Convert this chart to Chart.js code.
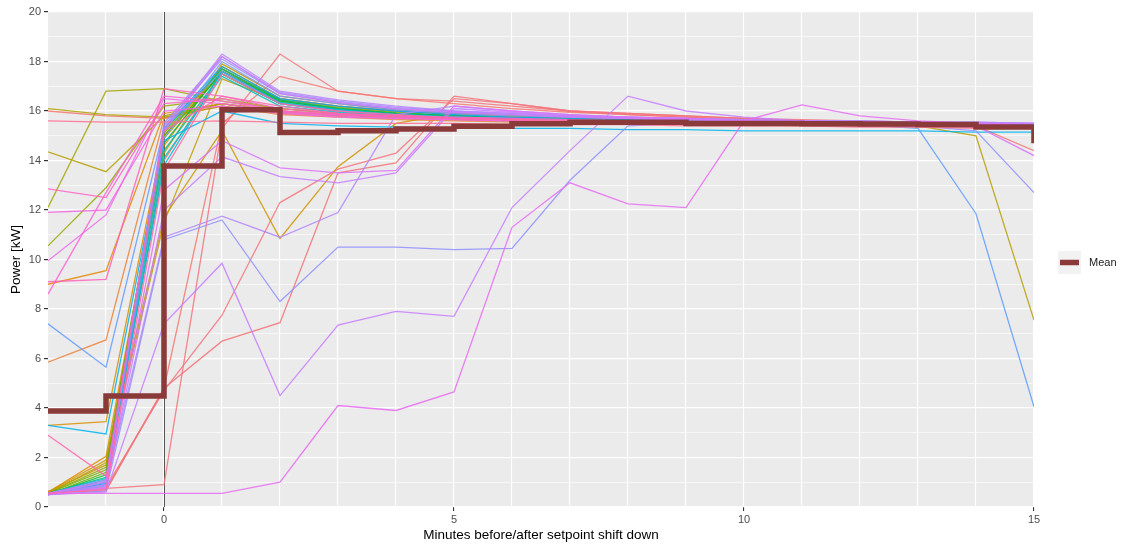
<!DOCTYPE html>
<html>
<head>
<meta charset="utf-8">
<script src="https://cdn.jsdelivr.net/npm/chart.js@4.4.1/dist/chart.umd.min.js"></script>
<style>
html,body{margin:0;padding:0;background:#fff;}
canvas{display:block;}
</style>
</head>
<body>
<canvas id="c" width="1123" height="544"></canvas>
<script>
// ---- data (minutes -2..15) ----
const minutes = [-2,-1,0,1,2,3,4,5,6,7,8,9,10,11,12,13,14,15];
const xTickLabels = [0,5,10,15];
const yTickLabels = [0,2,4,6,8,10,12,14,16,18,20];
const meanPower = [3.88,4.48,13.78,16.05,15.13,15.2,15.27,15.38,15.48,15.55,15.55,15.5,15.5,15.48,15.47,15.45,15.35,14.7];

const c01 = [0.6,0.9,14.0,17.6,16.5,16.2,16.0,15.85,15.75,15.7,15.65,15.6,15.55,15.55,15.5,15.5,15.45,15.4];
const uS  = [0.6,0.75,0.9,15.3,18.3,16.8,16.5,16.4,16.2,16.0,15.9,15.8,15.7,15.65,15.6,15.55,15.5,15.45];
const uT  = [0.6,0.65,4.8,15.5,17.4,16.8,16.5,16.3,16.1,15.95,15.85,15.75,15.7,15.6,15.55,15.5,15.45,15.4];
const uU  = [0.6,0.7,4.8,6.7,7.45,13.5,13.9,16.6,16.3,16.0,15.9,15.8,15.7,15.6,15.55,15.5,15.45,15.4];
const uV  = [0.65,0.8,4.7,7.75,12.3,13.65,14.3,16.5,16.3,16.0,15.85,15.75,15.65,15.6,15.55,15.5,15.45,15.4];
const uK  = [16.0,15.8,15.7,16.3,16.0,15.85,15.75,15.7,15.65,15.6,15.55,15.55,15.5,15.5,15.5,15.45,15.4,14.4];
const uM  = [5.85,6.75,15.7,16.2,15.85,15.75,15.65,15.6,15.55,15.5,15.5,15.45,15.45,15.4,15.4,15.35,15.35,15.3];
const uL  = [9.0,9.55,15.9,16.3,15.9,15.8,15.7,15.65,15.6,15.55,15.5,15.5,15.45,15.45,15.4,15.4,15.35,15.3];
const c02 = [0.6,2.05,14.6,17.8,16.5,16.2,16.0,15.9,15.8,15.7,15.65,15.6,15.6,15.55,15.5,15.5,15.45,15.45];
const uO  = [3.3,3.45,15.0,17.7,16.4,16.1,15.9,15.8,15.7,15.65,15.6,15.55,15.5,15.5,15.45,15.45,15.4,15.35];
const uZ  = [0.6,1.9,11.7,15.2,10.85,13.75,15.5,15.9,15.8,15.7,15.65,15.6,15.55,15.5,15.5,15.45,15.4,15.35];
const uAC = [0.6,1.7,11.5,17.3,16.4,16.1,15.9,15.8,15.7,15.65,15.6,15.55,15.5,15.5,15.45,15.45,15.4,15.35];
const c03 = [0.55,1.8,14.3,17.9,16.6,16.3,16.05,15.9,15.8,15.75,15.7,15.65,15.6,15.55,15.55,15.5,15.5,15.45];
const uB  = [14.35,13.55,15.8,16.3,16.0,15.85,15.75,15.7,15.65,15.6,15.55,15.55,15.5,15.5,15.45,15.4,15.0,7.55];
const uC  = [16.1,15.85,15.75,16.2,15.95,15.8,15.7,15.65,15.6,15.55,15.5,15.5,15.45,15.45,15.4,15.4,15.35,15.3];
const uA  = [12.1,16.8,16.9,16.4,16.1,15.9,15.8,15.7,15.6,15.6,15.55,15.5,15.5,15.45,15.45,15.4,15.4,15.35];
const uD  = [10.55,12.9,16.2,16.5,16.1,15.9,15.8,15.7,15.65,15.6,15.55,15.5,15.5,15.5,15.45,15.45,15.4,15.4];
const c04 = [0.55,1.6,14.9,17.6,16.4,16.1,15.9,15.8,15.7,15.65,15.6,15.55,15.5,15.5,15.45,15.45,15.4,15.4];
const c05 = [0.55,1.5,15.1,17.7,16.45,16.15,15.95,15.8,15.75,15.7,15.6,15.6,15.55,15.5,15.5,15.45,15.45,15.4];
const c06 = [0.5,1.4,15.0,17.5,16.3,16.0,15.85,15.75,15.65,15.6,15.55,15.5,15.5,15.45,15.45,15.4,15.4,15.35];
const c07 = [0.5,1.3,14.7,17.6,16.4,16.1,15.9,15.8,15.7,15.65,15.6,15.55,15.5,15.5,15.5,15.45,15.4,15.4];
const c08 = [0.55,1.2,15.2,17.7,16.45,16.1,15.9,15.8,15.7,15.65,15.6,15.55,15.55,15.5,15.5,15.45,15.45,15.4];
const c09 = [0.5,1.1,14.4,17.5,16.3,16.05,15.85,15.75,15.65,15.6,15.55,15.5,15.5,15.45,15.45,15.4,15.4,15.35];
const c10 = [0.5,1.0,14.1,17.4,16.2,15.95,15.8,15.7,15.65,15.6,15.5,15.5,15.45,15.45,15.4,15.4,15.35,15.3];
const c11 = [0.55,1.15,13.8,17.6,16.35,16.05,15.85,15.75,15.7,15.6,15.55,15.5,15.5,15.45,15.45,15.4,15.4,15.35];
const uP  = [3.3,2.95,14.8,16.0,15.5,15.4,15.35,15.3,15.3,15.3,15.25,15.25,15.2,15.2,15.2,15.2,15.15,15.15];
const c12 = [0.5,0.95,15.3,17.8,16.5,16.2,16.0,15.85,15.75,15.7,15.65,15.6,15.55,15.55,15.5,15.5,15.45,15.45];
const uN  = [7.4,5.65,15.3,17.6,16.3,16.0,15.85,15.75,15.7,15.65,15.6,15.55,15.5,15.5,15.45,15.3,11.85,4.05];
const c16 = [0.5,0.85,14.9,18.0,16.6,16.3,16.05,15.9,15.8,15.75,15.7,15.65,15.6,15.55,15.55,15.5,15.5,15.45];
const uX  = [0.5,0.65,10.8,11.6,8.3,10.5,10.5,10.4,10.45,13.2,15.4,15.5,15.5,15.45,15.45,15.4,15.2,12.7];
const c13 = [0.5,1.05,15.4,18.1,16.7,16.35,16.1,15.95,15.85,15.75,15.7,15.65,15.6,15.6,15.55,15.55,15.5,15.5];
const c14 = [0.5,0.9,15.5,18.2,16.75,16.4,16.15,16.0,15.9,15.8,15.75,15.7,15.65,15.6,15.6,15.55,15.55,15.5];
const uY  = [0.55,0.9,10.9,11.75,10.9,11.9,15.85,16.2,16.0,15.85,15.75,15.7,15.6,15.55,15.5,15.5,15.45,15.4];
const c15 = [0.55,1.1,15.3,18.3,16.8,16.45,16.2,16.0,15.9,15.8,15.75,15.7,15.65,15.6,15.6,15.55,15.55,15.5];
const uW  = [0.5,0.6,7.4,9.85,4.5,7.35,7.9,7.7,12.1,14.4,16.6,16.0,15.75,15.6,15.5,15.45,15.4,15.35];
const uAB = [0.5,0.75,12.0,14.15,13.35,13.1,13.5,16.1,15.95,15.8,15.7,15.65,15.6,15.55,15.5,15.45,15.4,15.3];
const c17 = [0.55,1.0,15.2,18.2,16.7,16.35,16.1,15.95,15.85,15.75,15.7,15.65,15.6,15.6,15.55,15.55,15.5,15.5];
const uAA = [0.5,0.8,12.8,14.8,13.7,13.5,13.6,16.2,16.0,15.85,15.75,15.7,15.6,15.55,15.5,15.45,15.4,14.2];
const uR  = [0.55,0.55,0.55,0.55,1.0,4.1,3.9,4.65,11.3,13.1,12.25,12.1,15.6,16.25,15.8,15.6,15.5,15.4];
const uG  = [9.95,11.8,16.5,16.3,15.95,15.8,15.7,15.65,15.6,15.55,15.55,15.5,15.5,15.45,15.45,15.4,15.35,15.3];
const uF  = [11.9,12.0,16.0,16.2,15.9,15.75,15.7,15.65,15.6,15.55,15.5,15.5,15.5,15.45,15.45,15.4,15.4,15.35];
const uI  = [8.6,12.7,16.6,16.4,16.0,15.85,15.75,15.7,15.65,15.6,15.55,15.5,15.5,15.5,15.45,15.4,15.4,15.35];
const uE  = [12.85,12.5,16.3,16.5,16.0,15.85,15.8,15.7,15.65,15.6,15.6,15.55,15.5,15.5,15.45,15.45,15.4,15.4];
const uH  = [9.1,9.2,16.9,16.6,16.1,15.9,15.8,15.75,15.7,15.65,15.6,15.55,15.5,15.5,15.45,15.45,15.4,15.4];
const uQ  = [2.9,1.25,15.2,16.6,16.2,15.9,15.8,15.7,15.65,15.6,15.55,15.5,15.5,15.45,15.45,15.4,15.4,15.35];
const c18 = [0.55,0.7,13.6,17.5,16.3,16.0,15.85,15.7,15.65,15.6,15.55,15.5,15.5,15.45,15.4,15.4,15.35,15.3];
const uJ  = [15.6,15.55,15.55,15.6,15.55,15.5,15.5,15.5,15.45,15.45,15.45,15.4,15.4,15.4,15.35,15.35,15.3,15.3];

// ---- styles (hue order; later entries drawn on top) ----
const seriesList = [
  [c01,'#F8766D'],[uS,'#F5737A'],[uT,'#F7776F'],[uU,'#F37275'],[uV,'#F5747E'],[uK,'#F27870'],
  [uM,'#EC8239'],[uL,'#E58700'],[c02,'#E08B00'],[uO,'#DB8E00'],[uZ,'#CF9400'],[uAC,'#C49A00'],
  [c03,'#BB9D00'],[uB,'#B79F00'],[uC,'#AEA200'],[uA,'#A3A500'],[uD,'#9AA800'],[c04,'#8FAA00'],[c05,'#7CAE00'],
  [c06,'#5EB300'],[c07,'#00BA38'],[c08,'#00BF74'],[c09,'#00C19F'],
  [c10,'#00BFC4'],[c11,'#00BADE'],[uP,'#00B4EF'],[c12,'#00A9FF'],
  [uN,'#619CFF'],[c16,'#7F96FF'],[uX,'#8F91FF'],[c13,'#9590FF'],[c14,'#A58AFF'],
  [uY,'#B385FF'],[c15,'#B983FF'],[uW,'#C77CFF'],[uAB,'#C77CFF'],[c17,'#D079FA'],[uAA,'#DB72FB'],
  [uR,'#E76BF3'],[uG,'#EE67EB'],[uF,'#F564E3'],[uI,'#FC61D5'],[uE,'#FF61C9'],[uH,'#FF62BC'],
  [uQ,'#FF64B0'],[c18,'#FF6AA0'],[uJ,'#FF6C91']
];

function hexA(hex, a){
  const r=parseInt(hex.slice(1,3),16), g=parseInt(hex.slice(3,5),16), b=parseInt(hex.slice(5,7),16);
  return `rgba(${r},${g},${b},${a})`;
}
const toPts = arr => minutes.map((m,i)=>({x:m,y:arr[i]}));
const N = seriesList.length;
const datasets = seriesList.map(([arr,col],i)=>({
  data: toPts(arr), borderColor: hexA(col,0.85), borderWidth: 1.3,
  pointRadius: 0, fill:false, tension:0, order: N - i + 1
}));
const MEAN_COL = '#8B3A3A';
datasets.push({
  label:'Mean', data: toPts(meanPower), borderColor: MEAN_COL, borderWidth: 5.5,
  pointRadius:0, stepped:'before', fill:false, borderJoinStyle:'miter', borderCapStyle:'butt', order: 0
});

const FONT = "'Liberation Sans', Arial, Helvetica, sans-serif";

const panelPlugin = {
  id:'panel',
  beforeDraw(chart){
    const {ctx, chartArea:a} = chart;
    ctx.save(); ctx.fillStyle='#EBEBEB';
    ctx.fillRect(a.left,a.top,a.right-a.left,a.bottom-a.top); ctx.restore();
  },
  beforeDatasetsDraw(chart){
    const {ctx, chartArea:a, scales} = chart;
    const x0 = Math.round(scales.x.getPixelForValue(0))+0.5;
    ctx.save(); ctx.strokeStyle='#555555'; ctx.lineWidth=1;
    ctx.beginPath(); ctx.moveTo(x0,a.top); ctx.lineTo(x0,a.bottom); ctx.stroke(); ctx.restore();
  },
  afterDraw(chart){
    const {ctx, chartArea:a} = chart;
    ctx.save();
    ctx.fillStyle='#000'; ctx.font = `13.5px ${FONT}`;
    ctx.textAlign='center'; ctx.textBaseline='middle';
    ctx.fillText('Minutes before/after setpoint shift down',(a.left+a.right)/2,535);
    ctx.translate(16,(a.top+a.bottom)/2); ctx.rotate(-Math.PI/2);
    ctx.fillText('Power [kW]',0,0);
    ctx.restore();
    // legend
    ctx.save();
    ctx.fillStyle='#F2F2F2'; ctx.fillRect(1058,251,23,23);
    ctx.strokeStyle=MEAN_COL; ctx.lineWidth=5.5; ctx.lineCap='butt';
    ctx.beginPath(); ctx.moveTo(1060,262.5); ctx.lineTo(1079,262.5); ctx.stroke();
    ctx.fillStyle='#1a1a1a'; ctx.font=`11px ${FONT}`; ctx.textAlign='left'; ctx.textBaseline='middle';
    ctx.fillText('Mean',1089,263);
    ctx.restore();
  }
};

new Chart(document.getElementById('c'), {
  type:'line',
  data:{datasets},
  plugins:[panelPlugin],
  options:{
    responsive:false, animation:false, devicePixelRatio:1,
    layout:{padding:{left:0,right:89,top:12,bottom:0}},
    plugins:{legend:{display:false}, tooltip:{enabled:false}},
    scales:{
      x:{
        type:'linear', min:-2, max:15,
        afterFit(s){ s.height = 37; },
        border:{display:false},
        grid:{ color:'#FFFFFF', lineWidth:1.1, drawTicks:true, tickLength:4,
          tickColor: ctx => xTickLabels.includes(ctx.tick.value) ? '#333333' : 'rgba(0,0,0,0)' },
        ticks:{ stepSize:1, autoSkip:false, maxRotation:0, padding:2, color:'#4D4D4D',
          font:{family:FONT,size:11},
          callback: v => xTickLabels.includes(v) ? String(v) : '' }
      },
      y:{
        type:'linear', min:0, max:20,
        afterFit(s){ s.width = 48; },
        border:{display:false},
        grid:{ color:'#FFFFFF',
          lineWidth: ctx => yTickLabels.includes(ctx.tick.value) ? 1.2 : 0.6,
          drawTicks:true, tickLength:4,
          tickColor: ctx => yTickLabels.includes(ctx.tick.value) ? '#333333' : 'rgba(0,0,0,0)' },
        ticks:{ stepSize:1, autoSkip:false, padding:3, color:'#4D4D4D',
          font:{family:FONT,size:11},
          callback: v => yTickLabels.includes(v) ? String(v) : '' }
      }
    }
  }
});
</script>
</body>
</html>
